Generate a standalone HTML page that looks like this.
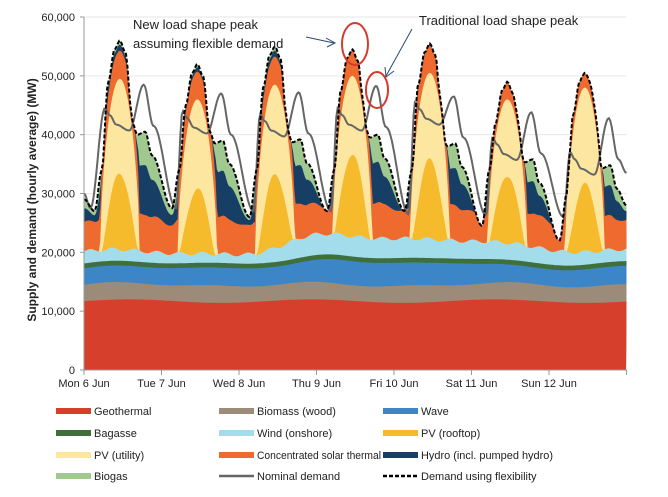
<!DOCTYPE html>
<html><head><meta charset="utf-8"><style>
body{margin:0;background:#fff;width:668px;height:492px;overflow:hidden;font-family:"Liberation Sans",sans-serif}
svg text{font-family:"Liberation Sans",sans-serif}
</style></head><body>
<svg id="s" width="668" height="492" xmlns="http://www.w3.org/2000/svg"></svg>
<script>
const S=document.getElementById('s');
let h='';
const X0=84,DW=77.5,Y0=370,K=353/60000;
const X=t=>X0+t/24*DW, Y=v=>Y0-v*K;
for(let v=10000;v<=60000;v+=10000)h+=`<line x1="84" x2="626" y1="${Y(v)}" y2="${Y(v)}" stroke="#e6e6e6" stroke-width="1"/>`;
function interp(pts,t){for(let i=0;i<pts.length-1;i++){if(t>=pts[i][0]&&t<=pts[i+1][0]){const a=pts[i],b=pts[i+1];const f=(t-a[0])/(b[0]-a[0]);const g=(1-Math.cos(Math.PI*f))/2;return a[1]+(b[1]-a[1])*g;}}return pts[pts.length-1][1];}
const peak=[56000,52000,55000,54500,55500,49000,50500];
const mins=[27000,27500,26000,27000,27000,24500,22000];
const eve=[40500,39000,39200,40000,38500,35800,34800];
const T=[[0,29000]];
for(let d=0;d<7;d++){const o=d*24;T.push([o+3.3,mins[d]],[o+5.5,d==6?30000:34000],[o+7.5,peak[d]-7000],[o+9.5,peak[d]-1500],[o+11.1,peak[d]],[o+12.8,peak[d]-2000],[o+15,eve[d]+1500],[o+16.5,eve[d]-500],[o+19,eve[d]],[o+21,eve[d]-4000]);}
T.push([168,28000]);
const Np=[[0,30000],[2,27500]];
const nm=[44500,44000,43500,44500,45500,39500,37000],ne=[48500,47000,47200,48300,46500,43800,42800],nl=[27000,27500,27000,27000,26500,26300,26000];
for(let d=0;d<7;d++){const o=d*24;if(d>0)Np.push([o+4.5,nl[d]]);Np.push([o+6.5,nm[d]],[o+8,nm[d]-1200],[o+10,nm[d]-2800],[o+14,nm[d]-3800],[o+18.5,ne[d]],[o+21.5,ne[d]-7000]);}
Np.push([168,33500]);
const rt=[13000,11000,12500,14000,13500,11500,11500];
const ut=[49500,46000,48500,50000,50500,46000,48000];
const N=400;const L=[[],[],[],[],[],[],[],[],[],[]];const tops=[];
for(let i=0;i<=N;i++){const t=i*168/N;const d=Math.min(6,Math.floor(t/24));const hh=t-d*24;
 const w=Math.sin(t*0.9)*300;
 const geo=11700+300*Math.sin(t/9);
 const bio=geo+2800+200*Math.sin(t/5);
 const wave=bio+2300+interp([[0,500],[60,800],[80,1800],[110,1500],[140,500],[168,800]],t);
 const bag=wave+800;
 const wind=bag+1500+interp([[0,500],[48,0],[72,2000],[100,1800],[120,1500],[168,500]],t)+w;
 let sol=Math.max(0,Math.sin(Math.PI*(hh-5.0)/12.2));
 let sr=Math.max(0,Math.sin(Math.PI*(hh-5.6)/11));
 const roof=wind+rt[d]*Math.pow(sr,1.1);
 const util=Math.max(roof,wind+(ut[d]-wind)*Math.pow(sol,0.6));
 const tot=Math.max(interp(T,t),util+(sol>0.05?1500*sol+800:0));
 const R=tot-util; const cst=Math.min(R,4000+R*0.12); const hyd=(R-cst)*0.6;
 const vals=[geo,bio,wave,bag,wind,roof,util,util+cst,util+cst+hyd,tot];
 vals.forEach((v,k)=>L[k].push([X(t),Y(v)]));tops.push([X(t),Y(tot)]);}
const cols=['#d63f2b','#9b8b78','#3c86c8','#3f6f3a','#a3dcea','#f6bb2c','#fde6a0','#ee6a2f','#173f66','#a0c990'];
for(let k=9;k>=0;k--){const p=L[k].map(q=>q[0].toFixed(1)+','+q[1].toFixed(1)).join(' ');h+=`<polygon points="84,370 ${p} 626,370" fill="${cols[k]}"/>`;}
let np='';for(let i=0;i<=N;i++){const t=i*168/N;np+=X(t).toFixed(1)+','+Y(interp(Np,t)).toFixed(1)+' ';}
h+=`<polyline points="${np}" fill="none" stroke="#666" stroke-width="2"/>`;
h+=`<polyline points="${tops.map(q=>q[0].toFixed(1)+','+q[1].toFixed(1)).join(' ')}" fill="none" stroke="#000" stroke-width="2" stroke-dasharray="4,2"/>`;
h+=`<line x1="84" x2="84" y1="17" y2="370" stroke="#999"/><line x1="84" x2="627" y1="370" y2="370" stroke="#999"/>`;
for(let v=0;v<=60000;v+=10000){h+=`<line x1="80" x2="84" y1="${Y(v)}" y2="${Y(v)}" stroke="#999"/><text x="75" y="${Y(v)+4}" font-size="11" text-anchor="end" fill="#222">${v?v.toLocaleString('en-US'):'0'}</text>`;}
const days=['Mon 6 Jun','Tue 7 Jun','Wed 8 Jun','Thu 9 Jun','Fri 10 Jun','Sat 11 Jun','Sun 12 Jun'];
for(let d=0;d<=7;d++){h+=`<line x1="${X0+d*DW}" x2="${X0+d*DW}" y1="370" y2="375" stroke="#999"/>`;if(d<7)h+=`<text x="${X0+d*DW}" y="387" font-size="11" text-anchor="middle" fill="#222">${days[d]}</text>`;}
h+=`<text transform="translate(36,200) rotate(-90)" font-size="12" font-weight="bold" text-anchor="middle" fill="#222">Supply and demand (hourly average) (MW)</text>`;
h+=`<ellipse cx="355" cy="44" rx="13" ry="21" fill="none" stroke="#d53a2c" stroke-width="2"/><ellipse cx="377" cy="90" rx="11" ry="18" fill="none" stroke="#d53a2c" stroke-width="2"/>`;
h+=`<text x="133" y="29" font-size="13" fill="#222">New load shape peak</text><text x="133" y="48" font-size="13" fill="#222">assuming flexible demand</text>`;
h+=`<text x="419" y="25" font-size="13" fill="#222">Traditional load shape peak</text>`;
h+=`<line x1="306" y1="37" x2="334" y2="43" stroke="#2b4a6b" stroke-width="1"/><polyline points="326,38 335,43 327,47" fill="none" stroke="#2b4a6b"/>`;
h+=`<line x1="412" y1="29" x2="386" y2="76" stroke="#2b4a6b" stroke-width="1"/><polyline points="385,67 386,77 394,71" fill="none" stroke="#2b4a6b"/>`;
const leg=[['Geothermal',cols[0]],['Biomass (wood)',cols[1]],['Wave',cols[2]],['Bagasse',cols[3]],['Wind (onshore)',cols[4]],['PV (rooftop)',cols[5]],['PV (utility)',cols[6]],['Concentrated solar thermal',cols[7]],['Hydro (incl. pumped hydro)',cols[8]],['Biogas',cols[9]],['Nominal demand','nom'],['Demand using flexibility','dash']];
const cx=[56,219,383],ry=[411,433,455,476];
leg.forEach((l,i)=>{const x=cx[i%3],y=ry[Math.floor(i/3)];
 if(l[1]=='nom')h+=`<line x1="${x}" x2="${x+35}" y1="${y}" y2="${y}" stroke="#666" stroke-width="2.5"/>`;
 else if(l[1]=='dash')h+=`<line x1="${x}" x2="${x+35}" y1="${y}" y2="${y}" stroke="#000" stroke-width="2.5" stroke-dasharray="4,2"/>`;
 else h+=`<rect x="${x}" y="${y-3}" width="35" height="6" fill="${l[1]}"/>`;
 const tl=l[0].startsWith('Concentrated')?' textLength="124" lengthAdjust="spacingAndGlyphs"':(l[0].startsWith('Hydro')?' textLength="132" lengthAdjust="spacingAndGlyphs"':'');
 h+=`<text x="${x+38}" y="${y+4}" font-size="11" fill="#222"${tl}>${l[0]}</text>`;});
S.innerHTML=h;
</script>
</body></html>
